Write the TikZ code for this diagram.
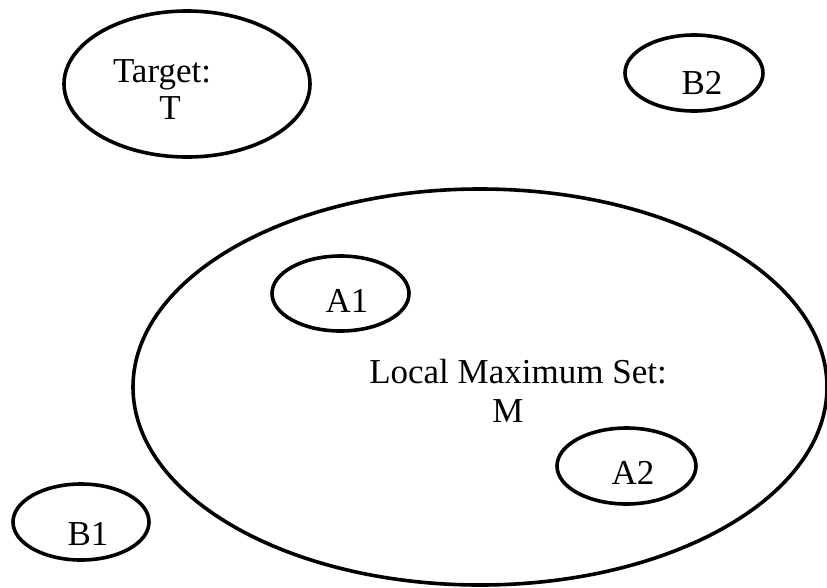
\documentclass[tikz,border=0pt]{standalone}
\usepackage{fontspec}
\setmainfont{Liberation Serif}
\usetikzlibrary{shapes.geometric}

\tikzset{
  setshape/.style={ellipse, draw=black, line width=3.6pt, inner sep=0pt,
    minimum width=#1},
  setlabel/.style={anchor=base, inner sep=0pt, font=\fontsize{35}{40}\selectfont},
}

\begin{document}
\begin{tikzpicture}[x=1pt, y=-1pt]
  \useasboundingbox (0,0) rectangle (827,587);

  % outer set M and the sets inside it
  \node[setshape=694pt, minimum height=396pt] (M)  at (480,387) {};
  \node[setshape=137pt, minimum height=75pt]  (A1) at (340.5,293.5) {};
  \node[setshape=139pt, minimum height=76pt]  (A2) at (626.5,466) {};

  % sets outside M
  \node[setshape=246pt, minimum height=146pt] (T)  at (187,84) {};
  \node[setshape=138pt, minimum height=76pt]  (B2) at (694,73) {};
  \node[setshape=136pt, minimum height=76pt]  (B1) at (81,522) {};

  % labels
  \node[setlabel] (tT1) at (162,82)  {Target:};
  \node[setlabel] (tT2) at (170,119) {T};
  \node[setlabel] (tB2) at (702,94)  {B2};
  \node[setlabel] (tB1) at (88,545)  {B1};
  \node[setlabel] (tA1) at (347,312) {A1};
  \node[setlabel] (tA2) at (633,484) {A2};
  \node[setlabel] (tM1) at (518,383) {Local Maximum Set:};
  \node[setlabel] (tM2) at (508,422) {M};
\end{tikzpicture}
\end{document}
